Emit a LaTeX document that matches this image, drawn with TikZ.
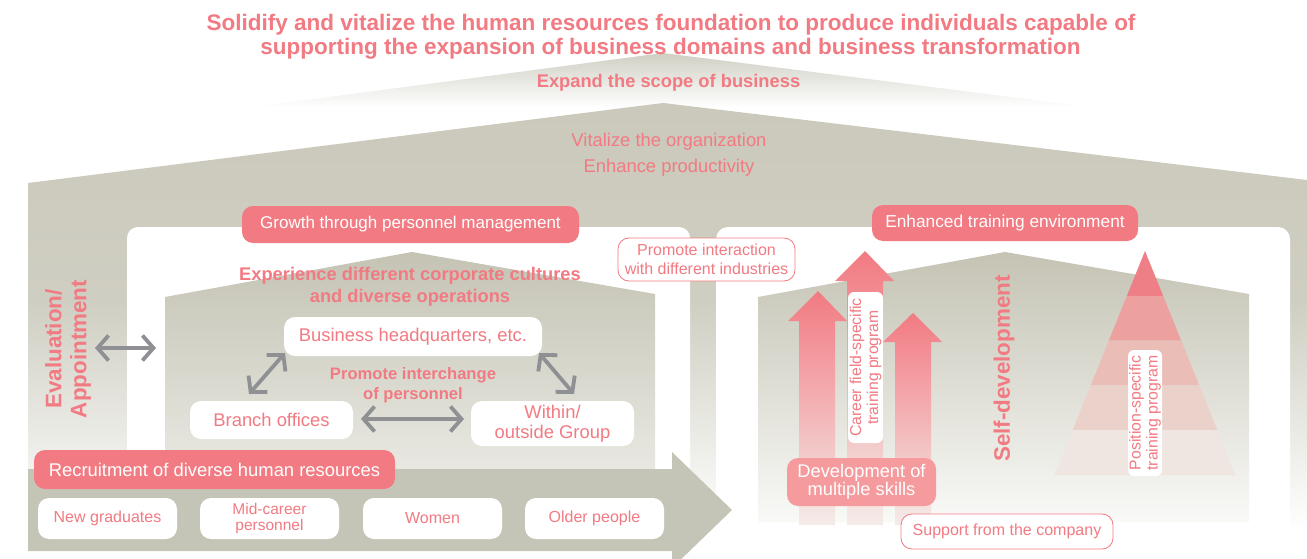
\documentclass[tikz,border=0pt]{standalone}
\usepackage{fontspec}
\setmainfont{Liberation Sans}
\usetikzlibrary{arrows.meta,shadings}

\definecolor{pk}{HTML}{F27A82}
\definecolor{pklight}{HTML}{F59A9D}
\definecolor{pkfade}{HTML}{F4ECE9}
\definecolor{arrgray}{HTML}{8F9094}
\definecolor{bandgray}{HTML}{C5C5B7}
\definecolor{gA}{HTML}{CAC9BB}
\definecolor{gB}{HTML}{CFCEC2}
\definecolor{hTop}{HTML}{C4C3B4}
\definecolor{hBotL}{HTML}{E9E9E3}
\definecolor{hBotR}{HTML}{F9F9F7}
\definecolor{roofTop}{HTML}{CFCFC4}
\definecolor{pyrA}{HTML}{EE7F86}
\definecolor{pyrB}{HTML}{ECA19F}
\definecolor{pyrC}{HTML}{EBBDB7}
\definecolor{pyrD}{HTML}{EAD2CB}
\definecolor{pyrE}{HTML}{EFE6E2}

\newcommand\fsz[2]{\fontsize{#1pt}{#2pt}\selectfont}

\begin{document}
\begin{tikzpicture}[x=1pt,y=-1pt,
  pill/.style={fill=pk,text=white,rounded corners=11pt,inner sep=0pt,align=center},
  wbox/.style={fill=white,text=pk,rounded corners=11pt,inner sep=0pt,align=center},
  obox/.style={draw=pk,line width=0.8pt,fill=white,text=pk,rounded corners=11pt,inner sep=0pt,align=center},
  pinktext/.style={text=pk,inner sep=0pt,align=center},
  dbl/.style={draw=arrgray,line width=3.8pt,
    {Straight Barb[length=11pt,width=25pt]}-{Straight Barb[length=11pt,width=25pt]}},
  uparrow/.style={top color=pk,bottom color=pkfade,draw=none}
]
\useasboundingbox (0,0) rectangle (1307,559);

% ---- background roofs ----
\shade[top color=roofTop,bottom color=white]
  (253,107) -- (663,53) -- (1090,107) -- cycle;
% upper part of the main backdrop, then its fade towards white
\shade[top color=gA,bottom color=gB]
  (28,183) -- (663,103) -- (1307,180) -- (1307,300.5) -- (28,300.5) -- cycle;
\shade[top color=gB,bottom color=white] (28,300) rectangle (1307,532);

% ---- left block ----
\fill[white,rounded corners=11pt] (127,227) rectangle (690,485);
\shade[top color=hTop,bottom color=hBotL]
  (165,297) -- (412,252) -- (655,294) -- (655,475) -- (165,475) -- cycle;

% ---- right block ----
\fill[white,rounded corners=12pt] (716,227) rectangle (1290,575);
\shade[top color=hTop,bottom color=hBotR]
  (758,297) -- (1005,252) -- (1249,294) -- (1249,522) -- (758,522) -- cycle;

% ---- recruitment band arrow ----
\fill[bandgray] (28,469) -- (672,469) -- (672,452) -- (732,510)
  -- (672,568) -- (672,551) -- (28,551) -- cycle;

% ---- headings ----
\node[pinktext,anchor=base,font=\fsz{22.5}{27}\bfseries] (title1) at (671,31)
  {Solidify and vitalize the human resources foundation to produce individuals capable of};
\node[pinktext,anchor=base,font=\fsz{22.5}{27}\bfseries] (title2) at (670.5,55)
  {supporting the expansion of business domains and business transformation};
\node[pinktext,anchor=base,font=\fsz{18.3}{22}\bfseries] (expand) at (668.5,88)
  {Expand the scope of business};
\node[pinktext,anchor=base,font=\fsz{18.4}{22}] (vital) at (669,147)
  {Vitalize the organization};
\node[pinktext,anchor=base,font=\fsz{18.4}{22}] (prod) at (669,172)
  {Enhance productivity};

% ---- left block contents ----
\node[pill,minimum width=337pt,minimum height=37pt,font=\fsz{17}{20}] (growth)
  at (410.5,224.5) {Growth through personnel management};
\node[pinktext,font=\fsz{18.3}{22}\bfseries] (exper) at (410,287)
  {Experience different corporate cultures\\and diverse operations};
\node[wbox,minimum width=258pt,minimum height=39pt,font=\fsz{18.4}{22}] (bh)
  at (413,336.5) {Business headquarters, etc.};
\node[wbox,minimum width=163pt,minimum height=38pt,font=\fsz{18.4}{22}] (branch)
  at (271.5,420) {Branch offices};
\node[wbox,minimum width=163pt,minimum height=45pt,font=\fsz{18.4}{20}] (within)
  at (552.5,423.5) {Within/\\outside Group};
\node[pinktext,font=\fsz{16.6}{19.5}\bfseries] (interch) at (413,385)
  {Promote interchange\\of personnel};
\node[pinktext,rotate=90,font=\fsz{22.4}{25}\bfseries] (evalapp) at (68,349)
  {Evaluation/\\Appointment};

\coordinate (evA) at (95,348);   \coordinate (evB) at (156,348);
\coordinate (bhL) at (285,353);  \coordinate (brT) at (249,394);
\coordinate (bhR) at (539,353);  \coordinate (wiT) at (574,394);
\coordinate (brR) at (361,419);  \coordinate (wiL) at (464,419);
\draw[dbl] (evA) -- (evB);
\draw[dbl] (bhL) -- (brT);
\draw[dbl] (bhR) -- (wiT);
\draw[dbl] (brR) -- (wiL);

% ---- recruitment ----
\node[pill,minimum width=361pt,minimum height=39pt,font=\fsz{18.4}{22}] (recruit)
  at (214.5,469.5) {Recruitment of diverse human resources};
\node[wbox,minimum width=139pt,minimum height=41pt,font=\fsz{16}{17}] (newgrad)
  at (107.5,518.5) {New graduates};
\node[wbox,minimum width=139pt,minimum height=41pt,font=\fsz{15.5}{16.5}] (midcar)
  at (269.5,518.5) {Mid-career\\personnel};
\node[wbox,minimum width=139pt,minimum height=41pt,font=\fsz{16}{17}] (women)
  at (432.5,518.5) {Women};
\node[wbox,minimum width=139pt,minimum height=41pt,font=\fsz{16}{17}] (older)
  at (594.5,518.5) {Older people};

% ---- right block contents ----
% rising skill arrows
\shade[uparrow] (799,525) -- (799,321) -- (788,321) -- (818,291) -- (847,321)
  -- (835,321) -- (835,525) -- cycle;
\shade[uparrow] (847,525) -- (847,281) -- (835,281) -- (865,251) -- (894,281)
  -- (883,281) -- (883,525) -- cycle;
\shade[uparrow] (895,525) -- (895,342) -- (883,342) -- (913,313) -- (942,342)
  -- (931,342) -- (931,525) -- cycle;

% training pyramid
\fill[pyrA] (1145,251) -- (1163.1,295.8) -- (1126.9,295.8) -- cycle;
\fill[pyrB] (1126.9,295.8) -- (1163.1,295.8) -- (1181.2,340.6) -- (1108.8,340.6) -- cycle;
\fill[pyrC] (1108.8,340.6) -- (1181.2,340.6) -- (1199.3,385.4) -- (1090.7,385.4) -- cycle;
\fill[pyrD] (1090.7,385.4) -- (1199.3,385.4) -- (1217.4,430.2) -- (1072.6,430.2) -- cycle;
\fill[pyrE] (1072.6,430.2) -- (1217.4,430.2) -- (1235.5,475) -- (1054.5,475) -- cycle;

\node[pill,minimum width=266pt,minimum height=36pt,font=\fsz{17.3}{20}] (enh)
  at (1005,223) {Enhanced training environment};
\node[wbox,rotate=90,rounded corners=6pt,minimum width=151pt,minimum height=35pt,
  font=\fsz{15.7}{17}] (career) at (865.5,367.5) {Career field-specific\\training program};
\node[wbox,rotate=90,rounded corners=6pt,minimum width=126pt,minimum height=34pt,
  font=\fsz{15.8}{17}] (position) at (1145,413) {Position-specific\\training program};
\node[pill,fill=pklight,minimum width=149pt,minimum height=48pt,font=\fsz{18.3}{18.5}]
  (devel) at (861.5,482) {Development of\\multiple skills};
\node[pinktext,rotate=90,font=\fsz{22.4}{25}\bfseries] (selfdev) at (1004,368.5)
  {Self-development};
\node[obox,minimum width=212pt,minimum height=35pt,font=\fsz{16}{18}] (support)
  at (1007,531.5) {Support from the company};

% ---- link between blocks ----
\node[obox,minimum width=177pt,minimum height=43pt,font=\fsz{16}{19}] (interact)
  at (706.5,259.5) {Promote interaction\\with different industries};
\end{tikzpicture}
\end{document}
